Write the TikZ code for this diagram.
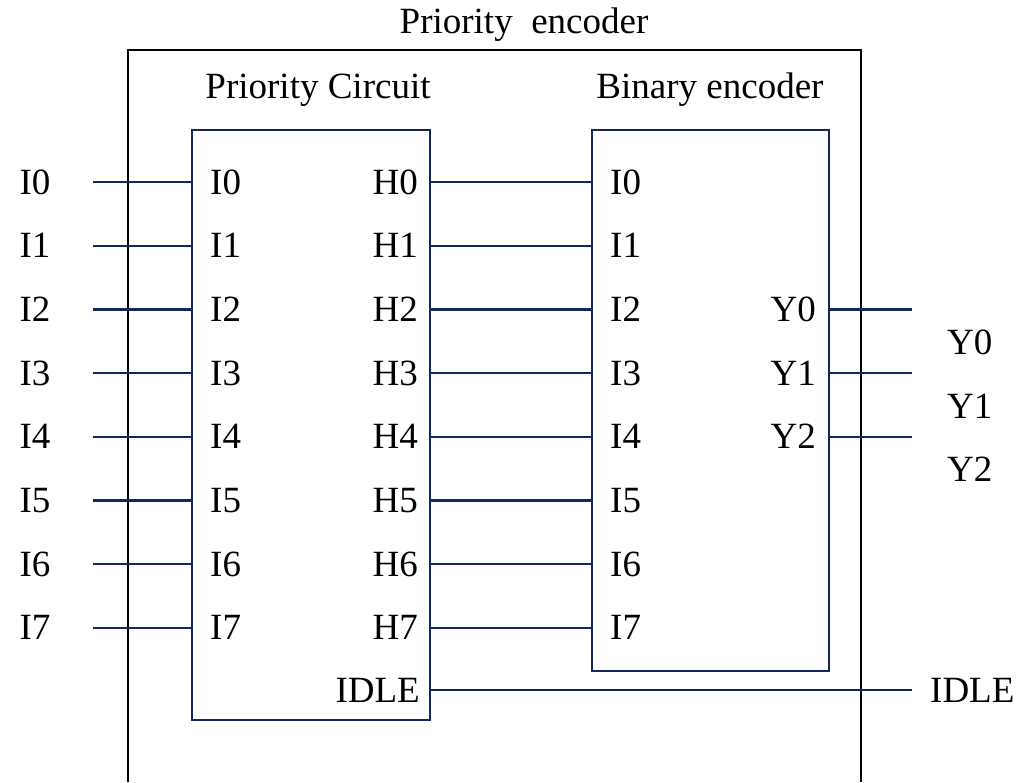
\documentclass[tikz,border=0pt]{standalone}
\usepackage{fontspec}
\setmainfont{Liberation Serif}
\usetikzlibrary{positioning, calc}
\definecolor{wirecol}{HTML}{16265F}

\begin{document}
\begin{tikzpicture}[x=1pt, y=-1pt, font=\fontsize{37}{44}\selectfont,
    wire/.style={draw=wirecol, line width=2.3pt},
    block/.style={draw=wirecol, line width=2.8pt, inner sep=0pt},
    lbl/.style={inner sep=0pt}]
    \useasboundingbox (0,0) rectangle (1023,782);

    % outer frame, open at the bottom
    \draw[line width=2.2pt] (128,782) -- (128,50) -- (861,50) -- (861,782);
    \node[lbl, anchor=base] (title) at (524,33) {Priority\ \ encoder};

    % the two blocks
    \node[block, minimum width=238, minimum height=590] (pc) at (311,425) {};
    \node[block, minimum width=237, minimum height=541] (be) at (710.5,400.5) {};
    \node[lbl, anchor=base] (pclbl) at (318,98) {Priority Circuit};
    \node[lbl, anchor=base] (belbl) at (710,98) {Binary encoder};

    \foreach \i in {0,...,7} {
        \pgfmathsetmacro{\ry}{182+63.7*\i}
        \node[lbl, anchor=base] (in\i) at (35,\ry+12) {I\i};
        \coordinate (pin\i) at (93,\ry);
        \node[lbl, anchor=base west] (pcI\i) at (210,\ry+12) {I\i};
        \node[lbl, anchor=base east] (pcH\i) at (418,\ry+12) {H\i};
        \node[lbl, anchor=base west] (beI\i) at (610,\ry+12) {I\i};
        \draw[wire] (pin\i) -- (pin\i -| pc.west);
        \draw[wire] (pin\i -| pc.east) -- (pin\i -| be.west);
    }

    % outputs
    \foreach \i/\r in {0/2, 1/3, 2/4} {
        \pgfmathsetmacro{\ry}{182+63.7*\r}
        \node[lbl, anchor=base east] (beY\i) at (816,\ry+12) {Y\i};
        \node[lbl, anchor=base west] (out\i) at (947,\ry+45) {Y\i};
        \coordinate (pout\i) at (912,\ry);
        \draw[wire] (pout\i -| be.east) -- (pout\i);
    }

    \node[lbl, anchor=base east] (pcidle) at (420,702) {IDLE};
    \node[lbl, anchor=base west] (idle) at (930,702) {IDLE};
    \coordinate (pidle) at (912,690);
    \draw[wire] (pidle -| pc.east) -- (pidle);
\end{tikzpicture}
\end{document}
